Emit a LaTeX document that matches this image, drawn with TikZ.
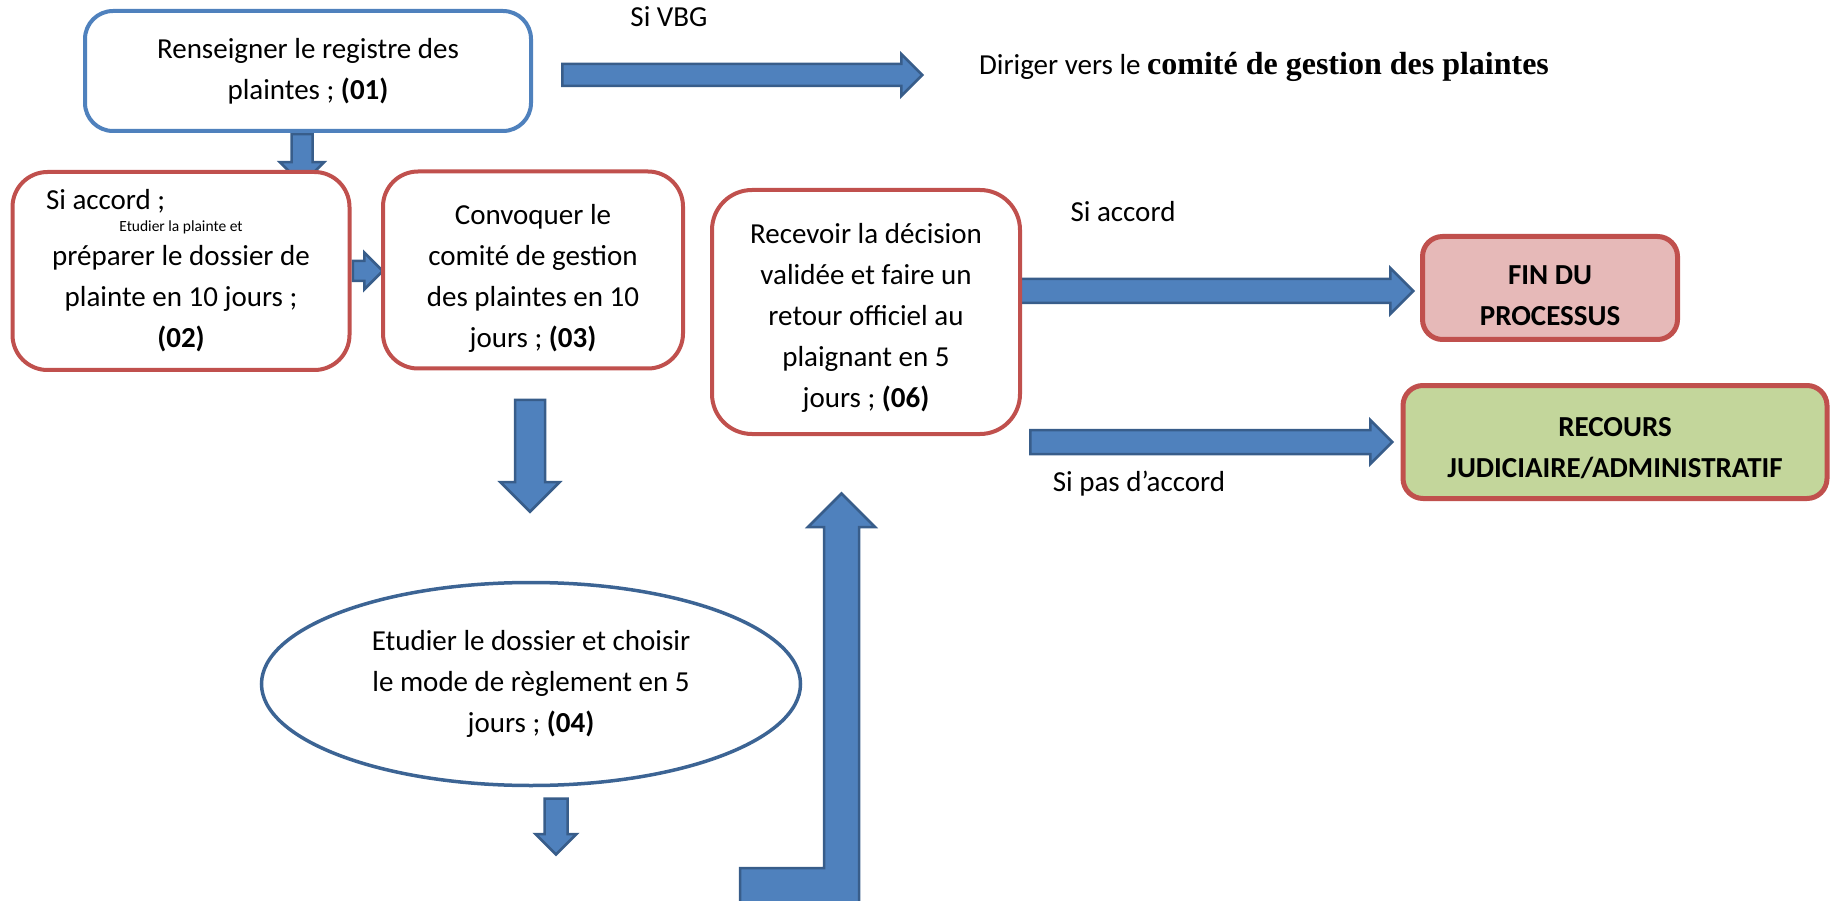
\documentclass[tikz,border=0pt]{standalone}
\usepackage{fontspec}
\setmainfont{Carlito}
\newfontfamily\serifbold{Liberation Serif}
\usetikzlibrary{shapes.geometric,shapes.arrows,calc}

\definecolor{arrowfill}{HTML}{4F81BD}
\definecolor{arrowedge}{HTML}{385D8A}
\definecolor{boxblue}{HTML}{4F81BD}
\definecolor{boxred}{HTML}{C0504D}
\definecolor{finfill}{HTML}{E6B9B8}
\definecolor{recfill}{HTML}{C3D69B}
\definecolor{ellblue}{HTML}{3C6494}

\pgfdeclarelayer{background}
\pgfsetlayers{background,main}

\tikzset{
	txt/.style={font=\fontsize{29}{41}\selectfont, align=center, inner sep=0pt},
	stepbox/.style={txt, draw=boxred, line width=4pt, rounded corners=35pt, fill=white},
	endbox/.style={txt, font=\fontsize{29}{41}\selectfont\bfseries, draw=boxred, line width=5pt, rounded corners=20pt},
	lbl/.style={font=\fontsize{29}{41}\selectfont, inner sep=0pt, anchor=base},
	bigarrow/.style={single arrow, draw=arrowedge, fill=arrowfill, line width=2.5pt, inner xsep=0pt, inner ysep=10pt, minimum width=0pt, single arrow head extend=10pt, single arrow tip angle=90, anchor=tail},
}

\begin{document}
\begin{tikzpicture}[x=1pt,y=-1pt]
		\useasboundingbox (0,0) rectangle (1840,901);

		\node[txt, draw=boxblue, line width=4pt, rounded corners=28pt, fill=white, minimum width=446pt, minimum height=120pt] (reg) at (308,71) {Renseigner le registre des\\plaintes ; \textbf{(01)}};
		\node[stepbox, minimum width=337pt, minimum height=198pt] (etude) at (181,271) {\makebox[270pt][l]{Si accord ;}\\[-19pt]{\fontsize{15.5}{18}\selectfont Etudier la plainte et}\\[-7pt]préparer le dossier de\\plainte en 10 jours ;\\\textbf{(02)}};
		\node[stepbox, minimum width=300pt, minimum height=197pt] (convoc) at (533,270) {\rule{0pt}{36pt}Convoquer le\\comité de gestion\\des plaintes en 10\\jours ; \textbf{(03)}};
		\node[stepbox, rounded corners=40pt, minimum width=308pt, minimum height=244pt] (retour) at (866,312) {\rule{0pt}{32pt}Recevoir la décision\\validée et faire un\\retour officiel au\\plaignant en 5\\jours ; \textbf{(06)}};
		\node[ellipse, txt, draw=ellblue, line width=3.5pt, fill=white, minimum width=539pt, minimum height=203pt] (choix) at (531,684) {Etudier le dossier et choisir\\le mode de règlement en 5\\jours ; \textbf{(04)}};
		\node[endbox, fill=finfill, minimum width=255pt, minimum height=103pt] (fin) at (1550,288) {\rule{0pt}{35pt}FIN DU\\PROCESSUS};
		\node[endbox, fill=recfill, minimum width=424pt, minimum height=113pt] (recours) at (1615,442) {\rule{0pt}{31pt}RECOURS\\JUDICIAIRE/ADMINISTRATIF};

		\node[lbl] (sivbg) at (669,27) {Si VBG};
		\node[lbl] (diriger) at (1264,75) {Diriger vers le {\serifbold\bfseries\fontsize{32}{38}\selectfont comité de gestion des plaintes}};
		\node[lbl] (siaccord) at (1123,222) {Si accord};
		\node[lbl] (sipas) at (1139,491) {Si pas d’accord};

		\begin{pgfonlayer}{background}
		\node[bigarrow, inner ysep=9.75pt, minimum height=360pt] (avbg) at ($(reg.east)+(28,4)$) {};
		\node[bigarrow, rotate=-90, inner ysep=9.25pt, single arrow head extend=11.5pt, minimum height=50pt] (a12) at ([xshift=-6pt]reg.south) {};
		\node[bigarrow, inner ysep=8.75pt, single arrow head extend=8.5pt, minimum height=30pt] (a23) at (etude.east) {};
		\node[bigarrow, rotate=-90, inner ysep=13.75pt, single arrow head extend=14.5pt, minimum height=112pt] (a34) at ($(convoc.south)+(-3,28)$) {};
		\node[bigarrow, rotate=-90, inner ysep=10.25pt, single arrow head extend=9pt, minimum height=56pt] (a4) at ($(choix.south)+(25,10)$) {};
		\node[bigarrow, inner ysep=10.75pt, single arrow head extend=11pt, minimum height=400pt] (afin) at ($(retour.east)+(-10,-21)$) {};
		\node[bigarrow, inner ysep=10.75pt, minimum height=362pt] (arec) at ($(retour.south east)+(7,6)$) {};
%	return arrow from below up to (06)
		\draw[draw=arrowedge, fill=arrowfill, line width=2.5pt] (740,868) -- (824,868) -- (824,527) -- (808,527) -- (841.5,493.5) -- (875,527) -- (859,527) -- (859,930) -- (740,930) -- cycle;
		\end{pgfonlayer}
	\end{tikzpicture}
\end{document}
